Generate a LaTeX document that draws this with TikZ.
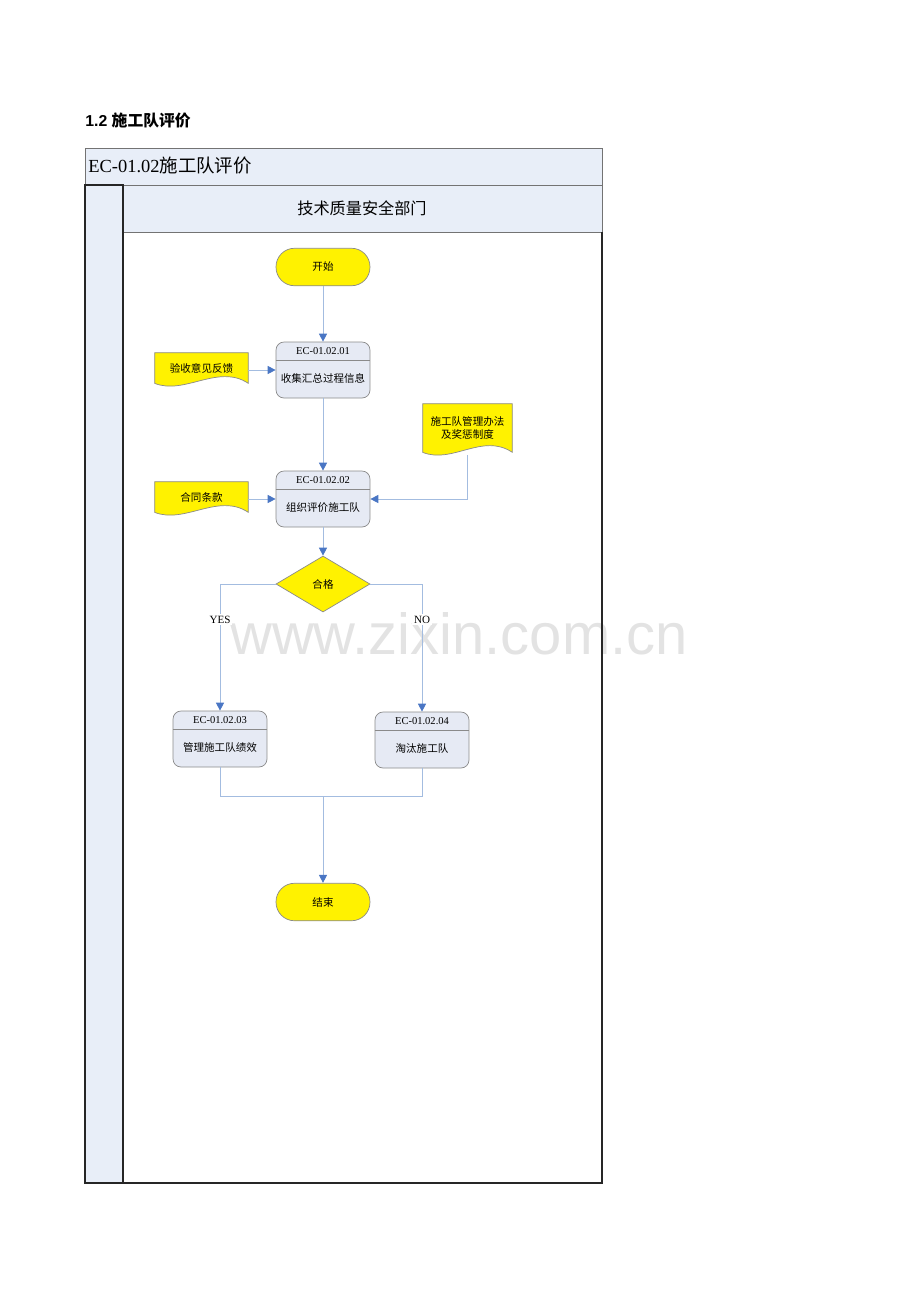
\documentclass[tikz,border=0pt]{standalone}
\usepackage{fontspec}
\setmainfont{Liberation Serif}
\newfontfamily\cjk{Noto Sans CJK SC}
\newfontfamily\hei{Liberation Sans}
\usetikzlibrary{arrows.meta,calc,shapes.geometric}

\definecolor{laneblue}{HTML}{E8EEF8}
\definecolor{procfill}{HTML}{E6EAF4}
\definecolor{flowline}{HTML}{A3BCE0}
\definecolor{tipblue}{HTML}{4A76C4}
\definecolor{shapeborder}{HTML}{8A8A8A}

\newcommand{\smalltext}{\fontsize{6}{7.5}\selectfont}

\pgfdeclarelayer{back}
\pgfdeclarelayer{mid}
\pgfsetlayers{back,mid,main}

\tikzset{
  flow/.style={draw=flowline, line width=0.5pt, -{Triangle[length=0.16cm,width=0.16cm,color=tipblue]}},
  link/.style={draw=flowline, line width=0.5pt},
  terminal/.style={draw=shapeborder, fill=yellow, rounded corners=0.37cm, minimum width=1.88cm, minimum height=0.75cm, inner sep=0pt, font=\smalltext\cjk},
  procbox/.style={draw=shapeborder, fill=procfill, rounded corners=0.16cm, minimum width=1.88cm, minimum height=1.12cm, inner sep=0pt},
  decision/.style={diamond, draw=shapeborder, fill=yellow, minimum width=1.88cm, minimum height=1.12cm, inner sep=0pt, font=\smalltext\cjk},
  docnode/.style={minimum width=1.86cm, minimum height=0.6cm, inner sep=0pt, align=center, font=\smalltext\cjk},
  flowlabel/.style={fill=white, inner sep=1pt, font=\fontsize{6.3}{7.5}\selectfont}
}

% document shape behind a named node
\newcommand{\docshape}[1]{%
  \begin{pgfonlayer}{mid}
    \draw[draw=shapeborder, fill=yellow] (#1.north west) -- (#1.north east) -- (#1.south east)
      .. controls ($(#1.south east)+(-30,-20)$) and ($(#1.south west)+(30,12)$) .. (#1.south west) -- cycle;
  \end{pgfonlayer}}

\begin{document}
\begin{tikzpicture}[x=0.02cm, y=-0.02cm]
\useasboundingbox (0,0) rectangle (920,1302);

% pool and lane, watermark under the lines
\begin{pgfonlayer}{back}
\fill[laneblue] (85,148) rectangle (602,232);
\fill[laneblue] (85,185) rectangle (123,1183);
\node[font=\hei\fontsize{33}{36}\selectfont, text=black!11] (mark) at (459,634) {www.zixin.com.cn};
\draw[black!55] (85,148) rectangle (602,185);
\draw[black!55] (123,232) -- (602,232);
\draw[black!55] (602,185) -- (602,232);
\draw[black!85, line width=0.6pt] (85,185) rectangle (123,1183);
\draw[black!85, line width=0.6pt] (123,1183) -- (602,1183) -- (602,232);
\end{pgfonlayer}

\node[anchor=west, inner sep=0pt, font=\hei\bfseries\fontsize{9}{11}\selectfont] (sectitle) at (85,121) {1.2 {\cjk\bfseries 施工队评价}};
\node[anchor=west, inner sep=0pt, font=\fontsize{10.5}{12}\selectfont] (pooltitle) at (88,166) {EC-01.02{\cjk 施工队评价}};
\node[font=\cjk\fontsize{9.2}{11}\selectfont] (lanetitle) at (362,208) {技术质量安全部门};

% shapes
\node[terminal] (start) at (323,267) {开始};
\node[terminal] (finish) at (323,902) {结束};
\node[decision] (check) at (323,584) {合格};

\foreach \n/\x/\y/\id/\txt in {p1/323/370/01/收集汇总过程信息, p2/323/499/02/组织评价施工队,
    p3/220/739/03/管理施工队绩效, p4/422/740/04/淘汰施工队} {
  \node[procbox] (\n) at (\x,\y) {};
  \draw[shapeborder] ($(\n.north west)+(0,19)$) -- ($(\n.north east)+(0,19)$);
  \node[font=\smalltext] (\n id) at ($(\n.north)+(0,9)$) {EC-01.02.\id};
  \node[font=\smalltext\cjk] (\n txt) at ($(\n.north)+(0,37)$) {\txt};
}

\node[docnode] (d1) at (201.5,368) {验收意见反馈};
\docshape{d1}
\node[docnode] (d2) at (201.5,497) {合同条款};
\docshape{d2}
\node[docnode, minimum width=1.78cm, minimum height=0.96cm] (d3) at (467.5,428) {施工队管理办法\\及奖惩制度};
\docshape{d3}

% connectors
\draw[flow] (start) -- (p1);
\draw[flow] (p1.west -| d1.east) -- (p1.west);
\draw[flow] (p1) -- (p2);
\draw[flow] (p2.west -| d2.east) -- (p2.west);
\draw[flow] ($(d3.south)+(0,3)$) |- (p2.east);
\draw[flow] (p2) -- (check);
\draw[flow] (check.west) -| node[flowlabel, pos=0.64] {YES} (p3.north);
\draw[flow] (check.east) -| node[flowlabel, pos=0.64] {NO} (p4.north);
\coordinate (merge) at (323,796);
\draw[link] (p3.south) |- (merge) -| (p4.south);
\draw[flow] (merge) -- (finish);
\end{tikzpicture}
\end{document}
